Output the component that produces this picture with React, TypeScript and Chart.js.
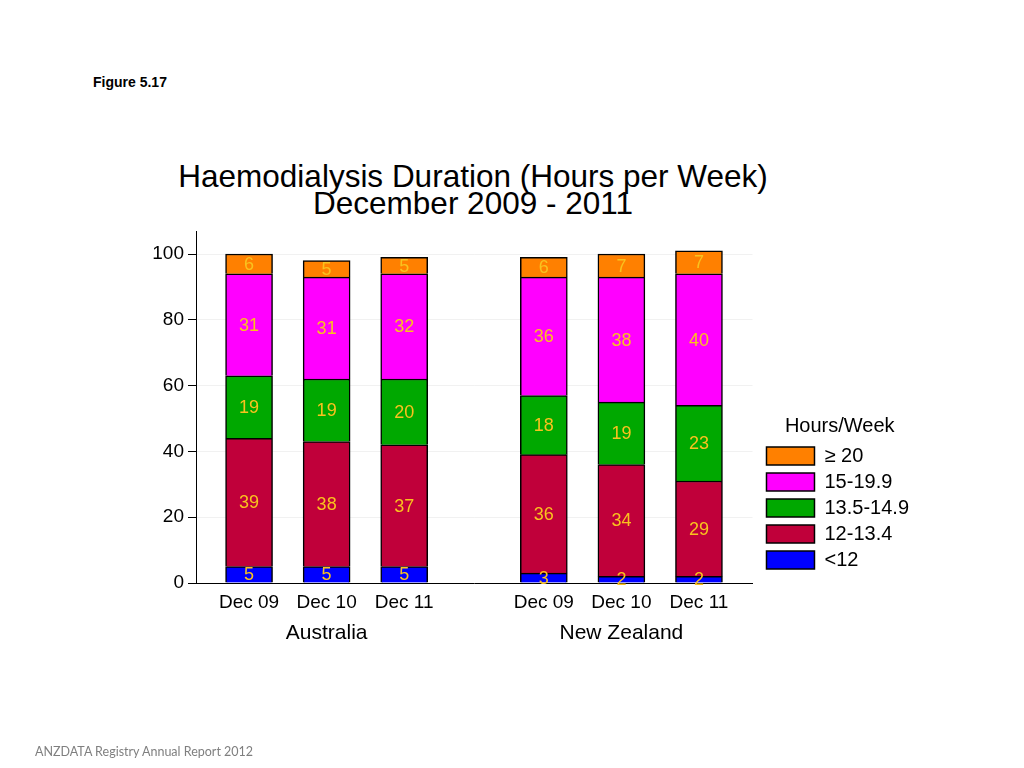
import React, { useEffect, useRef } from "react";
import { Chart, registerables } from "chart.js";

Chart.register(...registerables);

// ---- data ----
const groups = ["Australia", "New Zealand"];
const periods = ["Dec 09", "Dec 10", "Dec 11"];
const seriesNames = ["<12", "12-13.4", "13.5-14.9", "15-19.9", "\u2265 20"];
const under12 = [5, 5, 5, 3, 2, 2];
const h12to13 = [39, 38, 37, 36, 34, 29];
const h13to15 = [19, 19, 20, 18, 19, 23];
const h15to20 = [31, 31, 32, 36, 38, 40];
const h20plus = [6, 5, 5, 6, 7, 7];
const yTickValues = [0, 20, 40, 60, 80, 100];

// ---- styles / layout ----
const seriesColors = ["#0000FF", "#C0003A", "#00A800", "#FF00FF", "#FF8000"];
const labelColor = "#F9C21E";
const FONT = '"Liberation Sans", Arial, Helvetica, sans-serif';
const GROUP_STRIDE = 3.8; // gap between the two country groups (in slot units)
const LEGEND_GAP = 8; // extra space between plot area and legend

const slots = groups.flatMap((g, gi) =>
  periods.map((p, pi) => ({ x: gi * GROUP_STRIDE + pi, label: p, group: g }))
);
const seriesValues = [under12, h12to13, h13to15, h15to20, h20plus];

const legendGap = {
  id: "legendGap",
  afterLayout(chart: any) {
    if (chart.legend) {
      chart.legend.left += LEGEND_GAP;
      chart.legend.right += LEGEND_GAP;
    }
  },
};

const valueLabels = {
  id: "valueLabels",
  afterDatasetsDraw(chart: any) {
    const ctx = chart.ctx;
    ctx.save();
    ctx.font = `18px ${FONT}`;
    ctx.fillStyle = labelColor;
    ctx.textAlign = "center";
    ctx.textBaseline = "middle";
    chart.data.datasets.forEach((ds: any, di: number) => {
      const meta = chart.getDatasetMeta(di);
      meta.data.forEach((el: any, i: number) => {
        const v = ds.data[i].y;
        const p = el.getProps(["x", "y", "base"], true);
        ctx.fillText(String(v), p.x, (p.y + p.base) / 2 + 1);
      });
    });
    const xs = chart.scales.x;
    ctx.fillStyle = "#000";
    ctx.font = `21px ${FONT}`;
    ctx.textBaseline = "alphabetic";
    groups.forEach((g) => {
      const inGroup = slots.filter((s) => s.group === g);
      const mid = (inGroup[0].x + inGroup[inGroup.length - 1].x) / 2;
      ctx.fillText(g, xs.getPixelForValue(mid), chart.chartArea.bottom + 56);
    });
    ctx.restore();
  },
};

export default function App() {
  const canvasRef = useRef<HTMLCanvasElement | null>(null);

  useEffect(() => {
    if (!canvasRef.current) return;
    const chart = new Chart(canvasRef.current, {
      type: "bar",
      data: {
        datasets: seriesValues.map((vals, k) => ({
          label: seriesNames[k],
          data: vals.map((v, i) => ({ x: slots[i].x, y: v })),
          backgroundColor: seriesColors[k],
          borderColor: "#000000",
          borderWidth: 1.5,
          barThickness: 47,
        })),
      },
      options: {
        responsive: false,
        animation: false,
        events: [],
        layout: { padding: { left: 136, top: 231, right: 113, bottom: 105 } },
        scales: {
          x: {
            type: "linear",
            stacked: true,
            offset: false,
            min: -0.684,
            max: 6.49,
            grid: { display: false, drawTicks: false },
            border: { display: true, color: "#000", width: 1 },
            afterBuildTicks: (scale: any) => {
              scale.ticks = slots.map((s) => ({ value: s.x }));
            },
            afterFit: (scale: any) => {
              scale.height = 80;
            },
            ticks: {
              autoSkip: false,
              maxRotation: 0,
              padding: 8,
              color: "#000",
              font: { family: FONT, size: 19 },
              callback: (value: any) => {
                const s = slots.find((q) => Math.abs(q.x - Number(value)) < 1e-6);
                return s ? s.label : "";
              },
            },
          },
          y: {
            stacked: true,
            min: 0,
            max: 107,
            grid: { color: "#f1f1f1", tickColor: "#000", tickLength: 8, lineWidth: 1 },
            border: { display: true, color: "#000", width: 1 },
            afterBuildTicks: (scale: any) => {
              scale.ticks = yTickValues.map((v) => ({ value: v }));
            },
            afterFit: (scale: any) => {
              scale.width = 60;
            },
            ticks: {
              padding: 4,
              color: "#000",
              font: { family: FONT, size: 19 },
            },
          },
        },
        plugins: {
          legend: {
            position: "right",
            align: "start",
            fullSize: false,
            reverse: true,
            title: {
              display: true,
              text: "Hours/Week",
              color: "#000",
              font: { family: FONT, size: 20 },
              padding: { top: 185, bottom: 0 },
            },
            labels: {
              boxWidth: 48,
              boxHeight: 18,
              padding: 6,
              color: "#000",
              font: { family: FONT, size: 20 },
            },
          },
          title: { display: false },
          tooltip: { enabled: false },
        },
      },
      plugins: [valueLabels, legendGap],
    } as any);
    return () => chart.destroy();
  }, []);

  return (
    <div
      style={{
        position: "absolute",
        left: 0,
        top: 0,
        width: 1024,
        height: 768,
        overflow: "hidden",
        background: "#fff",
      }}
    >
      <div
        style={{
          position: "absolute",
          left: 93,
          top: 74,
          font: `bold 14px ${FONT}`,
          color: "#000",
          lineHeight: "16px",
        }}
      >
        Figure 5.17
      </div>
      <div
        style={{
          position: "absolute",
          left: 0,
          top: 163,
          width: 946,
          textAlign: "center",
          fontFamily: FONT,
          fontSize: 31.5,
          lineHeight: "27px",
          color: "#000",
        }}
      >
        <div>Haemodialysis Duration (Hours per Week)</div>
        <div>December 2009 - 2011</div>
      </div>
      <canvas
        ref={canvasRef}
        width={1024}
        height={768}
        style={{ position: "absolute", left: 0, top: 0, width: 1024, height: 768 }}
      />
      <div
        style={{
          position: "absolute",
          left: 35,
          top: 744,
          fontFamily: "Lato, 'Open Sans', sans-serif",
          fontSize: 12.5,
          lineHeight: "16px",
          color: "#7f7f7f",
        }}
      >
        ANZDATA Registry Annual Report 2012
      </div>
    </div>
  );
}
